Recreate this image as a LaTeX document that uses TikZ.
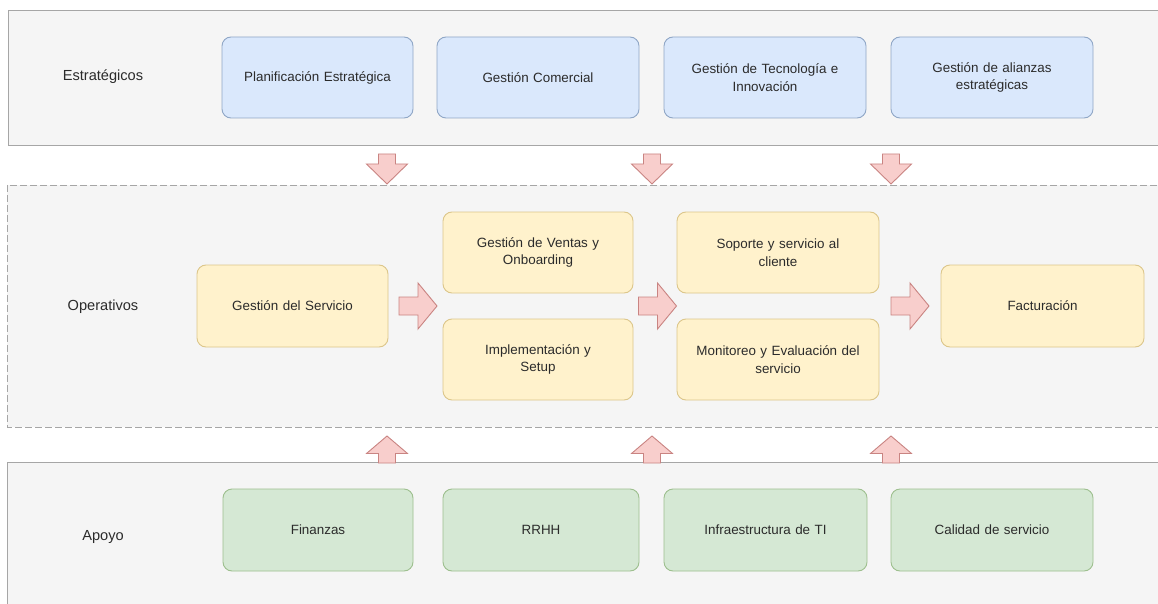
\documentclass[tikz,border=0pt]{standalone}
\usepackage{fontspec}
\setmainfont{Liberation Sans}
\definecolor{bandfill}{HTML}{F5F5F5}
\definecolor{bandline}{HTML}{A6A6A6}
\definecolor{bfill}{HTML}{DAE8FC}
\definecolor{bline}{HTML}{8FA6C6}
\definecolor{yfill}{HTML}{FFF2CC}
\definecolor{yline}{HTML}{DCC68A}
\definecolor{gfill}{HTML}{D5E8D4}
\definecolor{gline}{HTML}{9DBF8E}
\definecolor{afill}{HTML}{F8CECC}
\definecolor{aline}{HTML}{C98482}
\definecolor{txt}{HTML}{2B2B2B}
\begin{document}
\begin{tikzpicture}[x=1pt,y=-1pt,
  band/.style={fill=bandfill,draw=bandline,line width=0.9pt},
  box/.style={rounded corners=9pt,line width=0.9pt,align=center,text=txt,
    font=\fontsize{13.4}{17.5}\selectfont,inner sep=0pt,text width=#1-24pt},
  box/.default=190pt,
  bluebox/.style={box=202pt,fill=bfill,draw=bline,minimum width=202pt,minimum height=81pt},
  yelbox/.style={box=202pt,fill=yfill,draw=yline,minimum width=202pt,minimum height=81pt},
  grnbox/.style={box=202pt,fill=gfill,draw=gline,minimum width=202pt,minimum height=82pt},
  lab/.style={font=\fontsize{14.6}{18}\selectfont,text=txt},
  blockarrow/.style={fill=afill,draw=aline,line width=0.9pt,line join=miter},
  pics/downarrow/.style={code={
    \draw[blockarrow] (-8.5,-15)--(8.5,-15)--(8.5,-5)--(20.5,-5)--(0,15)--(-20.5,-5)--(-8.5,-5)--cycle;}},
  pics/uparrow/.style={code={
    \draw[blockarrow] (-8.5,13.5)--(8.5,13.5)--(8.5,4)--(20.5,4)--(0,-13.5)--(-20.5,4)--(-8.5,4)--cycle;}},
  pics/rightarrow/.style={code={
    \draw[blockarrow] (-19,-9)--(0,-9)--(0,-23)--(19,0)--(0,23)--(0,9)--(-19,9)--cycle;}}
]
\useasboundingbox (0,0) rectangle (1158,604);
\fill[white] (0,0) rectangle (1158,604);

% three horizontal lanes
\draw[band] (8,10) rectangle (1160,145);
\draw[band,dash pattern=on 7pt off 3pt] (7,185) rectangle (1160,427);
\draw[band] (7,462) rectangle (1160,612);

\node[lab] (lstr) at (103,77) {Estratégicos};
\node[lab] (lope) at (103,307) {Operativos};
\node[lab] (lapo) at (103,537) {Apoyo};

% strategic processes
\node[bluebox,minimum width=191pt] (plan) at (317.5,77.5) {Planificación Estratégica};
\node[bluebox] (com) at (538,77.5) {Gestión Comercial};
\node[bluebox] (tec) at (765,77.5) {Gestión de Tecnología e\\Innovación};
\node[bluebox] (ali) at (992,77.5) {Gestión de alianzas\\estratégicas};

% operational processes
\node[yelbox,minimum width=191pt,minimum height=82pt] (serv) at (292.5,306) {Gestión del Servicio};
\node[yelbox,minimum width=190pt,box=190pt] (vent) at (538,252.5) {Gestión de Ventas y\\Onboarding};
\node[yelbox,minimum width=190pt,box=190pt] (impl) at (538,359.5) {Implementación y\\Setup};
\node[yelbox] (sop) at (778,252.5) {Soporte y servicio al\\cliente};
\node[yelbox] (mon) at (778,359.5) {Monitoreo y Evaluación del\\servicio};
\node[yelbox,minimum width=203pt,minimum height=82pt] (fac) at (1042.5,306) {Facturación};

% support processes
\node[grnbox,minimum width=190pt] (fin) at (318,530) {Finanzas};
\node[grnbox,minimum width=196pt] (rrhh) at (541,530) {RRHH};
\node[grnbox,minimum width=203pt] (infra) at (765.5,530) {Infraestructura de TI};
\node[grnbox] (cal) at (992,530) {Calidad de servicio};

% flow between lanes
\pic at (387,169) {downarrow};
\pic at (652,169) {downarrow};
\pic at (891,169) {downarrow};
\pic at (387,449.5) {uparrow};
\pic at (652,449.5) {uparrow};
\pic at (891,449.5) {uparrow};

% flow inside the operational lane
\pic at (418,306) {rightarrow};
\pic at (657.5,306) {rightarrow};
\pic at (910,306) {rightarrow};
\end{tikzpicture}
\end{document}
